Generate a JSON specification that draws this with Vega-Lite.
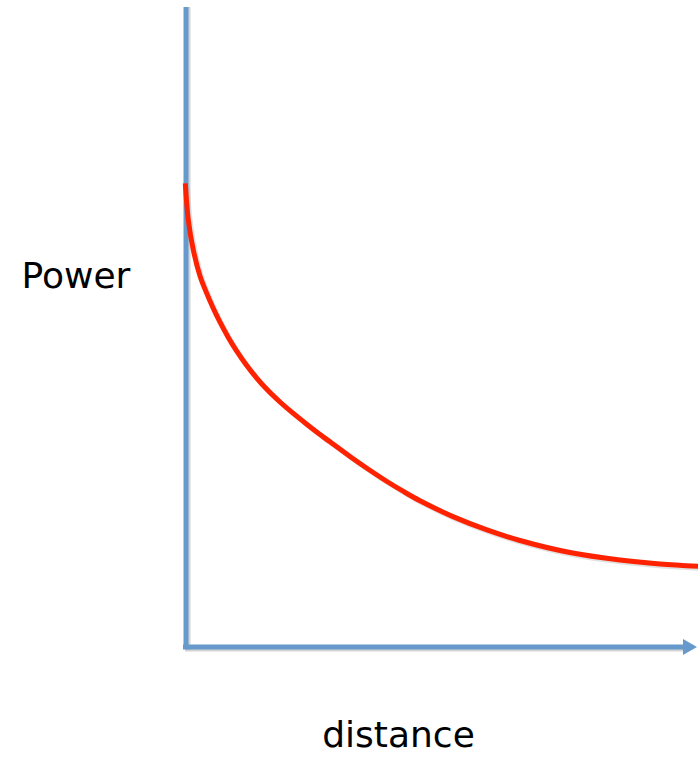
{
  "$schema": "https://vega.github.io/schema/vega-lite/v6.json",
  "width": 698,
  "height": 759,
  "autosize": {"type": "none"},
  "padding": 0,
  "background": "white",
  "config": {"view": {"stroke": null}},
  "datasets": {
    "curve": [
      {"distance": -0.007, "power": 4.637},
      {"distance": 0.023, "power": 4.27},
      {"distance": 0.073, "power": 3.97},
      {"distance": 0.14, "power": 3.71},
      {"distance": 0.20, "power": 3.554},
      {"distance": 0.27, "power": 3.393},
      {"distance": 0.34, "power": 3.248},
      {"distance": 0.42, "power": 3.101},
      {"distance": 0.507, "power": 2.959},
      {"distance": 0.60, "power": 2.825},
      {"distance": 0.707, "power": 2.689},
      {"distance": 0.82, "power": 2.564},
      {"distance": 0.94, "power": 2.45},
      {"distance": 1.07, "power": 2.338},
      {"distance": 1.207, "power": 2.228},
      {"distance": 1.32, "power": 2.141},
      {"distance": 1.44, "power": 2.052},
      {"distance": 1.64, "power": 1.905},
      {"distance": 1.82, "power": 1.78},
      {"distance": 2.01, "power": 1.655},
      {"distance": 2.17, "power": 1.558},
      {"distance": 2.34, "power": 1.462},
      {"distance": 2.67, "power": 1.304},
      {"distance": 3.01, "power": 1.171},
      {"distance": 3.34, "power": 1.065},
      {"distance": 3.84, "power": 0.945},
      {"distance": 4.34, "power": 0.87},
      {"distance": 4.74, "power": 0.83},
      {"distance": 5.12, "power": 0.807}
    ],
    "vaxis": [{"x": 0, "y": -0.01, "y2": 6.40}],
    "haxis": [{"x": -0.03, "x2": 4.97, "y": 0}],
    "arrow": [{"x": 5.04, "y": 0}],
    "labels": [
      {"x": -1.10, "y": 3.59, "label": "Power"},
      {"x": 2.125, "y": -1.0, "label": "distance"}
    ]
  },
  "layer": [
    {
      "data": {"name": "vaxis"},
      "mark": {"type": "rule", "color": "#aaaaaa", "opacity": 0.5, "strokeWidth": 5, "xOffset": 2, "yOffset": 2},
      "encoding": {
        "x": {"field": "x", "type": "quantitative", "scale": {"domain": [-1.86, 5.12], "nice": false, "zero": false}, "axis": null},
        "y": {"field": "y", "type": "quantitative", "scale": {"domain": [-1.12, 6.47], "nice": false, "zero": false}, "axis": null},
        "y2": {"field": "y2"}
      }
    },
    {
      "data": {"name": "haxis"},
      "mark": {"type": "rule", "color": "#aaaaaa", "opacity": 0.5, "strokeWidth": 5, "xOffset": 2, "yOffset": 2},
      "encoding": {
        "x": {"field": "x", "type": "quantitative"},
        "x2": {"field": "x2"},
        "y": {"field": "y", "type": "quantitative"}
      }
    },
    {
      "data": {"name": "vaxis"},
      "mark": {"type": "rule", "color": "#6699cc", "strokeWidth": 5},
      "encoding": {
        "x": {"field": "x", "type": "quantitative"},
        "y": {"field": "y", "type": "quantitative"},
        "y2": {"field": "y2"}
      }
    },
    {
      "data": {"name": "haxis"},
      "mark": {"type": "rule", "color": "#6699cc", "strokeWidth": 5},
      "encoding": {
        "x": {"field": "x", "type": "quantitative"},
        "x2": {"field": "x2"},
        "y": {"field": "y", "type": "quantitative"}
      }
    },
    {
      "data": {"name": "arrow"},
      "mark": {"type": "point", "shape": "M -1 -1.15 L 1 0 L -1 1.15 Z", "filled": true, "color": "#6699cc", "opacity": 1, "size": 196},
      "encoding": {
        "x": {"field": "x", "type": "quantitative"},
        "y": {"field": "y", "type": "quantitative"}
      }
    },
    {
      "data": {"name": "curve"},
      "mark": {"type": "line", "color": "#bbbbbb", "opacity": 0.45, "strokeWidth": 5, "interpolate": "catmull-rom", "xOffset": 2, "yOffset": 2},
      "encoding": {
        "x": {"field": "distance", "type": "quantitative"},
        "y": {"field": "power", "type": "quantitative"}
      }
    },
    {
      "data": {"name": "curve"},
      "mark": {"type": "line", "color": "#ff2200", "strokeWidth": 5, "interpolate": "catmull-rom"},
      "encoding": {
        "x": {"field": "distance", "type": "quantitative"},
        "y": {"field": "power", "type": "quantitative"}
      }
    },
    {
      "data": {"name": "labels"},
      "mark": {"type": "text", "font": "DejaVu Sans", "fontSize": 36, "color": "#000000", "align": "center", "baseline": "alphabetic"},
      "encoding": {
        "x": {"field": "x", "type": "quantitative"},
        "y": {"field": "y", "type": "quantitative"},
        "text": {"field": "label"}
      }
    }
  ]
}
